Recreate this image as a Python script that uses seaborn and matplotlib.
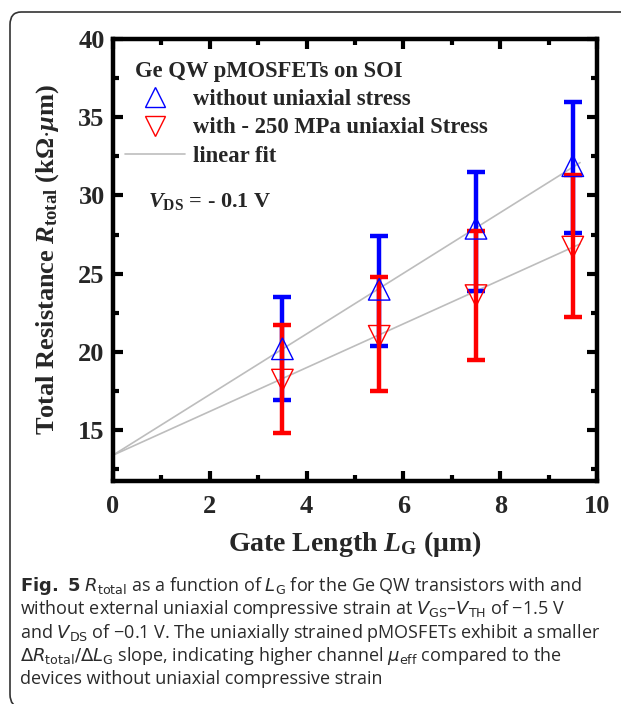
import matplotlib
matplotlib.use("Agg")
import matplotlib.pyplot as plt
from matplotlib.patches import FancyBboxPatch
from matplotlib.ticker import MultipleLocator
import seaborn as sns
import pandas as pd

# gate lengths (um)
gate_len = [3.5, 5.5, 7.5, 9.5]

# without uniaxial stress
r_plain = [20.2, 24.0, 27.9, 31.9]
r_plain_hi = [23.5, 27.4, 31.5, 36.0]
r_plain_lo = [16.9, 20.4, 23.9, 27.6]

# with -250 MPa uniaxial stress
r_strain = [18.2, 21.0, 23.6, 26.7]
r_strain_hi = [21.7, 24.8, 27.7, 31.3]
r_strain_lo = [14.8, 17.5, 19.5, 22.2]

# linear fit end points
fit_x = [0.0, 9.65]
fit_plain = [13.4, 32.1]
fit_strain = [13.4, 26.9]

sns.set_theme(style="white")
plt.rcParams["font.family"] = ["Liberation Serif", "DejaVu Serif"]
plt.rcParams["mathtext.fontset"] = "custom"
plt.rcParams["mathtext.rm"] = "Liberation Serif:bold"
plt.rcParams["mathtext.it"] = "Liberation Serif:bold:italic"
plt.rcParams["mathtext.bf"] = "Liberation Serif:bold"

W, H = 621, 704
fig = plt.figure(figsize=(W / 100, H / 100), dpi=100)
ax = fig.add_axes([113 / W, 1 - 481 / H, 484 / W, 442 / H])

# outer frame of the figure panel
frame = FancyBboxPatch((10 / W, -3 / H), 1.2, 1 - 9 / H,
                       boxstyle="round,pad=0,rounding_size=0.018",
                       transform=fig.transFigure, fill=False,
                       edgecolor="#333333", linewidth=1.2, zorder=0)
fig.patches.append(frame)

# fit lines
fits = pd.DataFrame({"x": fit_x * 2, "y": fit_plain + fit_strain,
                     "set": ["a", "a", "b", "b"]})
sns.lineplot(data=fits, x="x", y="y", units="set", estimator=None,
             color="#bdbdbd", linewidth=1.2, ax=ax, zorder=2)

# error bars
for y, hi, lo, col in [(r_plain, r_plain_hi, r_plain_lo, "#0000ff"),
                       (r_strain, r_strain_hi, r_strain_lo, "#ff0000")]:
    yerr = [[v - l for v, l in zip(y, lo)], [h - v for v, h in zip(y, hi)]]
    ax.errorbar(gate_len, y, yerr=yerr, fmt="none", ecolor=col,
                elinewidth=3.2, capsize=6.5, capthick=3.2, zorder=3)

# markers
pts = pd.DataFrame({"x": gate_len * 2, "y": r_plain + r_strain,
                    "grp": ["plain"] * 4 + ["strain"] * 4})
sns.scatterplot(data=pts[pts.grp == "plain"], x="x", y="y", marker="^", s=240,
                facecolor="none", edgecolor="#0000ff", linewidth=1.0, ax=ax, zorder=4)
sns.scatterplot(data=pts[pts.grp == "strain"], x="x", y="y", marker="v", s=240,
                facecolor="none", edgecolor="#ff0000", linewidth=1.0, ax=ax, zorder=4)

ax.set_xlim(0, 10)
ax.set_ylim(11.75, 40)
ax.xaxis.set_major_locator(MultipleLocator(2))
ax.xaxis.set_minor_locator(MultipleLocator(1))
ax.yaxis.set_major_locator(MultipleLocator(5))
ax.yaxis.set_minor_locator(MultipleLocator(2.5))
ax.tick_params(which="both", direction="in", top=True, right=True,
               bottom=True, left=True, width=3, color="black")
ax.tick_params(which="major", length=7, labelsize=19)
ax.tick_params(axis="x", which="major", pad=10)
ax.tick_params(axis="y", which="major", pad=6)
ax.tick_params(which="minor", length=4)
for lab in ax.get_xticklabels() + ax.get_yticklabels():
    lab.set_fontweight("bold")
for sp in ax.spines.values():
    sp.set_linewidth(3.2)
    sp.set_color("black")

ax.set_xlabel(r"Gate Length $L_{\rm G}$ ($\mathbf{\mu}$m)", fontsize=20,
              fontweight="bold", labelpad=8)
ax.set_ylabel(r"Total Resistance $R_{\rm total}$ (k$\Omega$$\cdot$$\mu$m)",
              fontsize=19, fontweight="bold", labelpad=12)

# legend
h1 = plt.Line2D([], [], marker="^", ls="none", ms=15, mfc="none",
                mec="#0000ff", mew=1.0)
h2 = plt.Line2D([], [], marker="v", ls="none", ms=15, mfc="none",
                mec="#ff0000", mew=1.0)
h3 = plt.Line2D([], [], color="#bdbdbd", lw=1.2)
ax.legend([h1, h2, h3],
          ["without uniaxial stress", "with - 250 MPa uniaxial Stress",
           "linear fit"],
          loc="upper left", bbox_to_anchor=(12 / 484, 1 - 50 / 442),
          frameon=False, prop={"weight": "bold", "size": 16.3},
          handlelength=2.65, handletextpad=0.35, labelspacing=0.33,
          borderpad=0, borderaxespad=0)
ax.text(22 / 484, 1 - 33 / 442, "Ge QW pMOSFETs on SOI", transform=ax.transAxes,
        fontsize=16.3, fontweight="bold", va="center")

ax.text(35 / 484, 1 - 162 / 442, r"$V_{\rm DS}$ = - 0.1 V", transform=ax.transAxes,
        fontsize=16, fontweight="bold", va="center")

# caption
lines = [
    r"$\mathbf{Fig.\ 5}$ $R_{\rm total}$ as a function of $L_{\rm G}$ for the Ge QW transistors with and",
    r"without external uniaxial compressive strain at $V_{\rm GS}$–$V_{\rm TH}$ of −1.5 V",
    r"and $V_{\rm DS}$ of −0.1 V. The uniaxially strained pMOSFETs exhibit a smaller",
    r"$\Delta R_{\rm total}/\Delta L_{\rm G}$ slope, indicating higher channel $\mu_{\rm eff}$ compared to the",
    r"devices without uniaxial compressive strain",
]
for i, ln in enumerate(lines):
    fig.text(20 / W, 1 - (586 + i * 23.3) / H, ln,
             family=["Open Sans", "DejaVu Sans"], math_fontfamily="dejavusans",
             fontsize=13.0, color="#2a2a2a", va="center")

fig.savefig("out.png", dpi=100)
